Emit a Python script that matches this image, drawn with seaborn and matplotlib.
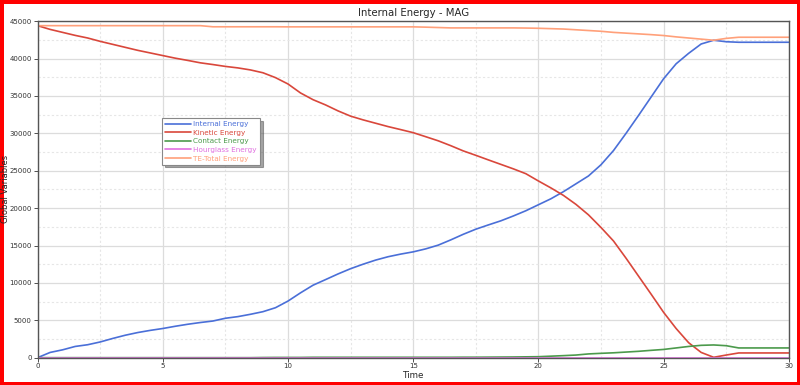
import numpy as np
import pandas as pd
import matplotlib.pyplot as plt
import seaborn as sns
from matplotlib.ticker import MultipleLocator

# time steps
tempo = [0, 0.5, 1, 1.5, 2, 2.5, 3, 3.5, 4, 4.5, 5, 5.5, 6, 6.5, 7, 7.5, 8, 8.5, 9, 9.5,
         10, 10.5, 11, 11.5, 12, 12.5, 13, 13.5, 14, 14.5, 15, 15.5, 16, 16.5, 17, 17.5,
         18, 18.5, 19, 19.5, 20, 20.5, 21, 21.5, 22, 22.5, 23, 23.5, 24, 24.5, 25, 25.5,
         26, 26.5, 27, 27.5, 28, 28.5, 29, 29.5, 30]

internal = [0, 700, 1050, 1500, 1730, 2100, 2570, 3000, 3360, 3650, 3900, 4200, 4470, 4700,
            4900, 5270, 5490, 5800, 6150, 6680, 7570, 8670, 9690, 10440, 11200, 11900, 12500,
            13050, 13500, 13850, 14150, 14550, 15050, 15750, 16500, 17180, 17750, 18300, 18950,
            19650, 20450, 21250, 22200, 23250, 24300, 25800, 27700, 30000, 32400, 34850, 37300,
            39300, 40700, 41950, 42450, 42250, 42180, 42180, 42180, 42180, 42180]

kinetic = [44400, 43900, 43500, 43100, 42750, 42300, 41900, 41500, 41100, 40750, 40400, 40050,
           39750, 39430, 39200, 38950, 38750, 38480, 38100, 37450, 36600, 35400, 34500, 33800,
           33000, 32300, 31800, 31350, 30900, 30500, 30090, 29550, 29000, 28350, 27650, 27060,
           26450, 25850, 25250, 24600, 23630, 22700, 21700, 20500, 19100, 17410, 15600, 13300,
           10900, 8500, 6060, 3900, 2000, 700, 50, 350, 630, 630, 630, 630, 630]

contact = [0, 0, 0, 0, 0, 0, 0, 0, 0, 0, 0, 0, 0, 0, 0, 0, 0, 0, 20, 30, 30, 30, 50, 50, 50,
           50, 50, 50, 50, 50, 50, 50, 50, 50, 60, 60, 70, 80, 90, 110, 130, 200, 270, 350, 500,
           580, 650, 750, 850, 980, 1100, 1300, 1500, 1650, 1700, 1600, 1300, 1300, 1300, 1300, 1300]

hourglass = [0] * len(tempo)

total = [44400, 44400, 44400, 44400, 44400, 44400, 44400, 44400, 44400, 44400, 44400, 44400,
         44400, 44400, 44250, 44250, 44250, 44250, 44250, 44250, 44240, 44240, 44240, 44240,
         44240, 44240, 44240, 44240, 44240, 44240, 44240, 44200, 44150, 44100, 44100, 44100,
         44100, 44100, 44100, 44080, 44050, 44000, 43950, 43850, 43750, 43650, 43500, 43400,
         43300, 43200, 43080, 42900, 42750, 42600, 42450, 42700, 42850, 42850, 42850, 42850, 42850]

nomi = ["Internal Energy", "Kinetic Energy", "Contact Energy", "Hourglass Energy", "TE-Total Energy"]
colori = ["#4a6fd8", "#d9473b", "#4c9a4c", "#e070e0", "#ffa07a"]

df = pd.DataFrame({"Time": tempo, nomi[0]: internal, nomi[1]: kinetic, nomi[2]: contact,
                   nomi[3]: hourglass, nomi[4]: total})
df_long = df.melt(id_vars="Time", var_name="Serie", value_name="Valore")

sns.set_style("white")
plt.rcParams['font.family'] = ['DejaVu Sans']

fig = plt.figure(figsize=(8, 3.85), dpi=100)
fig.patch.set_edgecolor("red")
fig.patch.set_linewidth(5)
ax = fig.add_axes([0.047, 0.071, 0.939, 0.874])

sns.lineplot(data=df_long, x="Time", y="Valore", hue="Serie", palette=colori,
             hue_order=nomi, linewidth=1.2, ax=ax)

ax.set_xlim(0, 30)
ax.set_ylim(0, 45000)
ax.xaxis.set_major_locator(MultipleLocator(5))
ax.xaxis.set_minor_locator(MultipleLocator(2.5))
ax.yaxis.set_major_locator(MultipleLocator(5000))
ax.yaxis.set_minor_locator(MultipleLocator(2500))
ax.grid(which="major", color="#dcdcdc", linewidth=0.9)
ax.grid(which="minor", color="#e6e6e6", linewidth=0.8, linestyle=(0, (2, 2)))
ax.tick_params(axis="both", which="major", labelsize=5.0, length=3, width=0.6,
               left=True, bottom=True, pad=1.2, colors="#333333")
ax.tick_params(which="minor", length=0)
for s in ax.spines.values():
    s.set_color("#555555")
    s.set_linewidth(1)

ax.set_title("Internal Energy - MAG", fontsize=7.3, pad=4)
ax.set_xlabel("Time", fontsize=6.3, labelpad=1)
ax.set_ylabel("Global Variables", fontsize=6)
ax.yaxis.set_label_coords(-0.037, 0.5)

leg = ax.legend(loc="upper left", bbox_to_anchor=(0.166, 0.712), fontsize=5.2,
                frameon=True, fancybox=False, shadow=True, handlelength=3.6,
                handletextpad=0.3, borderpad=0.4, labelspacing=0.36, borderaxespad=0)
leg.get_frame().set_edgecolor("#888888")
leg.get_frame().set_linewidth(0.8)
for testo, c in zip(leg.get_texts(), colori):
    testo.set_color(c)

plt.savefig("out.png", dpi=100)
